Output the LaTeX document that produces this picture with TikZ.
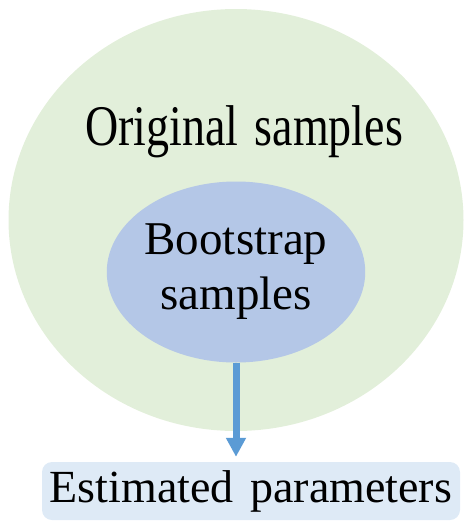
\documentclass[tikz,border=0pt]{standalone}
\usepackage{fontspec}
\setmainfont{Liberation Serif}
\usetikzlibrary{shapes.geometric,arrows.meta}
\definecolor{origgreen}{HTML}{E2EFDA}
\definecolor{bootblue}{HTML}{B4C7E7}
\definecolor{arrowblue}{HTML}{5B9BD5}
\definecolor{paramblue}{HTML}{DEEAF6}
\newcommand{\samplefont}{\fontsize{46}{55}\selectfont\spaceskip=16.5pt\relax}
\newcommand{\bootfont}{\fontsize{47}{55}\selectfont}

\begin{document}
\begin{tikzpicture}[x=1pt,y=-1pt,
		bigtext/.style={font=\samplefont},
		blob/.style={ellipse, draw=none, inner sep=0pt}]
		\useasboundingbox (0,0) rectangle (472,528);
		\node[blob, fill=origgreen, minimum width=455pt, minimum height=422pt] (orig) at (236,220) {};
		\node[bigtext, anchor=base] (origtext) at (244,145) {\scalebox{1}[1.25]{Original samples}};
		\node[blob, fill=bootblue, minimum width=258pt, minimum height=181pt, align=center, font=\bootfont] (boot) at (236,272) {Bootstrap\\samples};
		\node[rectangle, rounded corners=10pt, fill=paramblue, minimum width=418pt, minimum height=58pt, inner sep=0pt, text height=22pt, text depth=0pt, bigtext] (param) at (251,491) {Estimated parameters};
		\draw[arrowblue, line width=7pt, -{Triangle[width=19pt,length=19pt]}, shorten >=5pt] (boot.south) -- (boot.south |- param.north);
\end{tikzpicture}
\end{document}
